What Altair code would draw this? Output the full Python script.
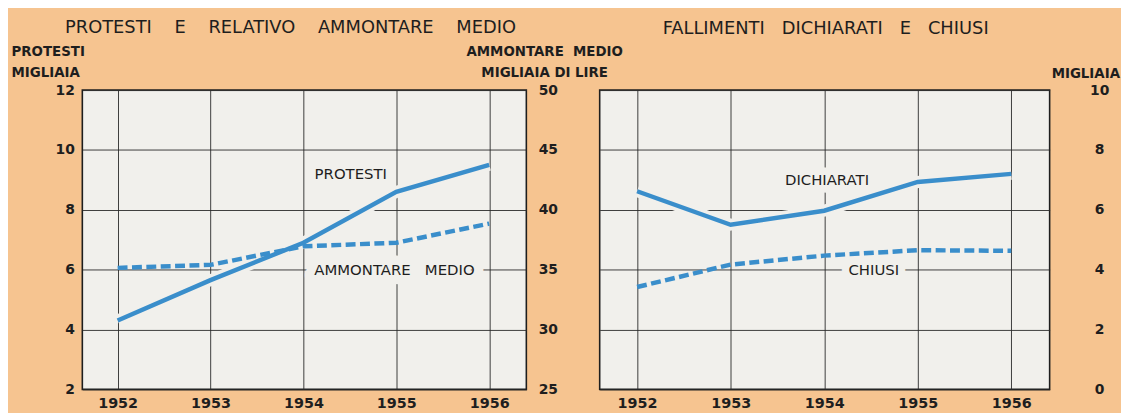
import altair as alt
import pandas as pd

# ---------------- data ----------------
years = [1952, 1953, 1954, 1955, 1956]
protesti = [4.3, 5.65, 6.9, 8.6, 9.5]                 # migliaia (left axis)
ammontare = [35.15, 35.4, 36.95, 37.25, 38.85]        # migliaia di lire (right axis)
dichiarati = [6.62, 5.5, 5.97, 6.93, 7.2]             # migliaia
chiusi = [3.42, 4.17, 4.47, 4.65, 4.63]               # migliaia

left_y_ticks = [2, 4, 6, 8, 10, 12]
amm_y_ticks = [25, 30, 35, 40, 45, 50]
right_y_ticks = [0, 2, 4, 6, 8, 10]

left_labels = ["PROTESTI", "AMMONTARE\u00a0\u00a0\u00a0MEDIO"]
left_label_x = [1954.51, 1954.98]
left_label_y = [9.2, 6.0]
right_labels = ["DICHIARATI", "CHIUSI"]
right_label_x = [1954.03, 1954.53]
right_label_y = [7.0, 4.0]

NB = "\u00a0"
title_left = "PROTESTI" + NB * 4 + "E" + NB * 4 + "RELATIVO" + NB * 4 + "AMMONTARE" + NB * 4 + "MEDIO"
title_right = "FALLIMENTI" + NB * 3 + "DICHIARATI" + NB * 3 + "E" + NB * 3 + "CHIUSI"

# ---------------- style ----------------
FONT = "DejaVu Sans"
PEACH = "#F6C490"
PLOT_BG = "#F1F0EC"
BLUE = "#3A8ECB"
INK = "#1E1E1E"

df_p = pd.DataFrame({"year": years, "v": protesti})
df_a = pd.DataFrame({"year": years, "v": ammontare})
df_d = pd.DataFrame({"year": years, "v": dichiarati})
df_c = pd.DataFrame({"year": years, "v": chiusi})
df_lt = pd.DataFrame({"year": left_label_x, "v": left_label_y, "t": left_labels})
df_rt = pd.DataFrame({"year": right_label_x, "v": right_label_y, "t": right_labels})


def x_enc(domain):
    return alt.X(
        "year:Q",
        scale=alt.Scale(domain=domain, nice=False, zero=False),
        axis=alt.Axis(
            values=years, format="d", title=None, grid=True, ticks=False,
            domain=False, labelPadding=7, labelFontSize=14.5,
            labelFontWeight="bold", labelFlush=False,
        ),
    )


xl = x_enc([1951.62, 1956.4])
xr = x_enc([1951.6, 1956.41])

y_left = alt.Y(
    "v:Q",
    scale=alt.Scale(domain=[2, 12], nice=False, zero=False),
    axis=alt.Axis(
        orient="left", values=left_y_ticks, grid=True, ticks=False, domain=False,
        title=["PROTESTI", "MIGLIAIA"], titleAngle=0, titleAlign="left",
        titleBaseline="alphabetic", titleX=-72, titleY=-35, titleLineHeight=21,
        labelPadding=8, labelFontSize=14, labelFontWeight="bold",
    ),
)

y_amm = alt.Y(
    "v:Q",
    scale=alt.Scale(domain=[25, 50], nice=False, zero=False),
    axis=alt.Axis(
        orient="right", values=amm_y_ticks, grid=False, ticks=False, domain=False,
        title=["AMMONTARE" + NB * 2 + "MEDIO", "MIGLIAIA DI LIRE"], titleAngle=0,
        titleAlign="center", titleBaseline="alphabetic", titleX=18, titleY=-35,
        titleLineHeight=21, labelPadding=12, labelAlign="left",
        labelFontSize=14, labelFontWeight="bold",
    ),
)

y_right = alt.Y(
    "v:Q",
    scale=alt.Scale(domain=[0, 10], nice=False, zero=False),
    axis=alt.Axis(
        orient="right", values=right_y_ticks, grid=True, ticks=False, domain=False,
        title="MIGLIAIA", titleAngle=0, titleAlign="center",
        titleBaseline="alphabetic", titleX=36, titleY=-13,
        labelPadding=50, labelAlign="center",
        labelFontSize=14, labelFontWeight="bold",
    ),
)


def solid(df, x, y):
    halo = alt.Chart(df).mark_line(color=PLOT_BG, strokeWidth=12).encode(x=x, y=y)
    line = alt.Chart(df).mark_line(color=BLUE, strokeWidth=4.5).encode(x=x, y=y)
    return [halo, line]


def dashed(df, x, y):
    return alt.Chart(df).mark_line(
        color=BLUE, strokeWidth=4.5, strokeDash=[10, 4.5]
    ).encode(x=x, y=y)


def labels(df, x, y, halo_w):
    halo = alt.Chart(df).mark_text(
        font=FONT, fontSize=15, color=PLOT_BG, stroke=PLOT_BG, strokeWidth=halo_w,
        strokeJoin="round",
    ).encode(x=x, y=y, text="t:N")
    txt = alt.Chart(df).mark_text(
        font=FONT, fontSize=15, color=INK
    ).encode(x=x, y=y, text="t:N")
    return [halo, txt]


left_main = alt.layer(*solid(df_p, xl, y_left), *labels(df_lt, xl, y_left, 19))
left_amm = alt.layer(dashed(df_a, xl, y_amm))

left = alt.layer(left_main, left_amm).resolve_scale(y="independent").properties(
    width=448, height=302,
    title=alt.TitleParams(
        title_left, font=FONT, fontSize=18, fontWeight="normal", color=INK,
        anchor="middle", frame="group", dx=-14, offset=8,
    ),
)

right = alt.layer(
    *solid(df_d, xr, y_right), dashed(df_c, xr, y_right), *labels(df_rt, xr, y_right, 15)
).properties(
    width=454, height=302,
    title=alt.TitleParams(
        title_right, font=FONT, fontSize=18, fontWeight="normal", color=INK,
        anchor="middle", frame="group", dx=1, offset=29,
    ),
)

chart = alt.hconcat(left, right, spacing=74).properties(
    bounds="flush",
    padding={"left": 2, "top": 8, "right": 0, "bottom": 0},
    background=PEACH,
).configure_view(
    fill=PLOT_BG, stroke=INK, strokeWidth=1.6
).configure_axis(
    gridColor="#2A2A2A", gridWidth=1, gridOpacity=0.9,
    labelFont=FONT, labelColor=INK, titleFont=FONT, titleColor=INK,
    titleFontSize=13.5, titleFontWeight="bold",
)

chart.save("out.html", embed_options={"renderer": "svg", "actions": False})
